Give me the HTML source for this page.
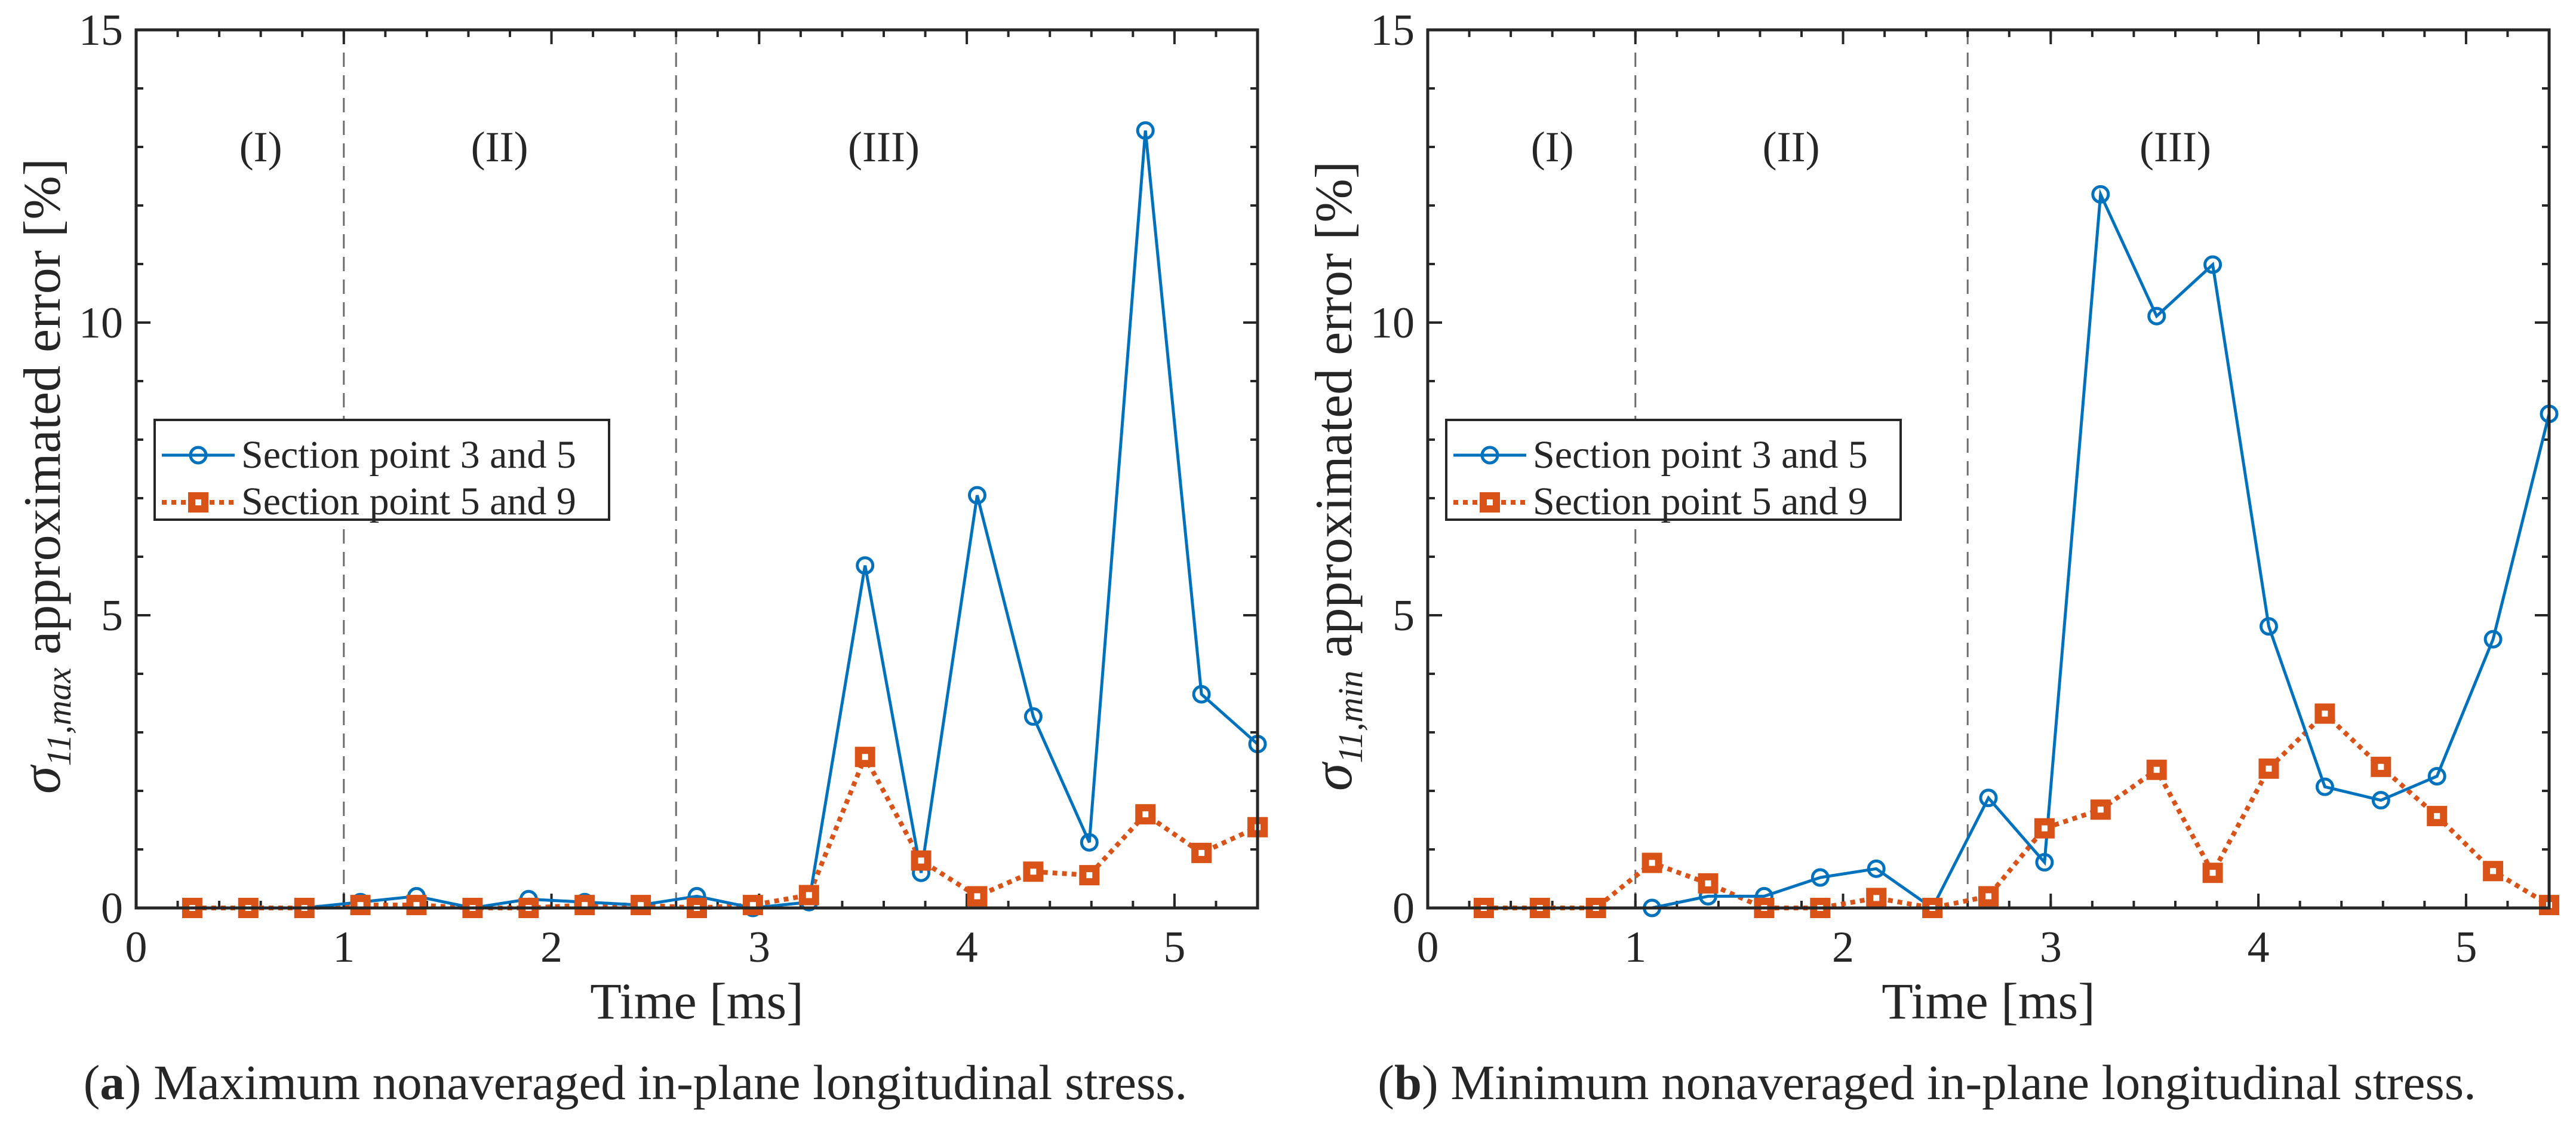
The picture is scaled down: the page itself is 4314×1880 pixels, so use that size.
<!DOCTYPE html>
<html><head><meta charset="utf-8">
<style>
html,body{margin:0;padding:0;background:#fff;}
svg{display:block;}
text{font-family:"Liberation Serif",serif;fill:#262626;}
</style></head>
<body>
<svg id="fig" width="4314" height="1880" viewBox="0 0 4314 1880" xmlns="http://www.w3.org/2000/svg"></svg>
<script>
const timeValues = [0.27,0.54,0.81,1.08,1.35,1.62,1.89,2.16,2.43,2.70,2.97,3.24,3.51,3.78,4.05,4.32,4.59,4.86,5.13,5.40];
const maxSp35 = [0,0,0,0.1,0.2,0,0.15,0.1,0.05,0.2,0,0.1,5.85,0.6,7.05,3.27,1.12,13.28,3.65,2.8];
const maxSp59 = [0,0,0,0.05,0.05,0,0,0.05,0.05,0,0.05,0.22,2.58,0.81,0.2,0.62,0.56,1.6,0.94,1.38];
const minSp35 = [0,0,0,0,0.2,0.2,0.52,0.67,0,1.88,0.78,12.19,10.11,10.99,4.81,2.07,1.84,2.25,4.59,8.44];
const minSp59 = [0,0,0,0.77,0.42,0,0,0.17,0,0.2,1.36,1.68,2.36,0.6,2.38,3.32,2.41,1.57,0.63,0.05];
const xTicks = [0,1,2,3,4,5];
const yTicks = [0,5,10,15];
const regionBounds = [1,2.6];
const regionLabels = ["(I)","(II)","(III)"];
const regionLabelX = [0.6,1.75,3.6];

const NS="http://www.w3.org/2000/svg";
const svg=document.getElementById('fig');
function mk(tag,attrs,parent){const e=document.createElementNS(NS,tag);for(const k in attrs)e.setAttribute(k,attrs[k]);(parent||svg).appendChild(e);return e;}

function panel(left, ser1, ser2, ylabelSub, caption, capBold, id){
  const L=left, R=left+1878, T=50, B=1520, xmax=5.4, ymax=15;
  const xs=v=>L+(v/xmax)*(R-L);
  const ys=v=>B-(v/ymax)*(B-T);
  const g=mk('g',{});
  
  
  regionBounds.forEach(b=>{
    const l=mk('line',{x1:xs(b),x2:xs(b),y1:T,y2:B,stroke:'#6e6e6e','stroke-width':3,'stroke-dasharray':'24 14'},g);
    
    
  });
  regionLabels.forEach((t,i)=>{
    const tx=mk('text',{x:xs(regionLabelX[i]),y:ys(13)+24,'font-size':72,'text-anchor':'middle'},g);
    tx.textContent=t;
    
    
  });
  for(let v=0.2; v<xmax-0.01; v+=0.2){
    mk('line',{x1:xs(v),x2:xs(v),y1:B,y2:B-12,stroke:'#262626','stroke-width':4},g);
    mk('line',{x1:xs(v),x2:xs(v),y1:T,y2:T+12,stroke:'#262626','stroke-width':4},g);
  }
  for(let v=1; v<ymax; v++){
    mk('line',{x1:L,x2:L+12,y1:ys(v),y2:ys(v),stroke:'#262626','stroke-width':4},g);
    mk('line',{x1:R,x2:R-12,y1:ys(v),y2:ys(v),stroke:'#262626','stroke-width':4},g);
  }
  xTicks.forEach(v=>{
    mk('line',{x1:xs(v),x2:xs(v),y1:B,y2:B-24,stroke:'#262626','stroke-width':4},g);
    mk('line',{x1:xs(v),x2:xs(v),y1:T,y2:T+24,stroke:'#262626','stroke-width':4},g);
    const t=mk('text',{x:xs(v),y:B+90,'font-size':74,'text-anchor':'middle'},g);
    t.textContent=v;
    
    
  });
  yTicks.forEach(v=>{
    mk('line',{x1:L,x2:L+24,y1:ys(v),y2:ys(v),stroke:'#262626','stroke-width':4},g);
    mk('line',{x1:R,x2:R-24,y1:ys(v),y2:ys(v),stroke:'#262626','stroke-width':4},g);
    const t=mk('text',{x:L-22,y:ys(v)+25,'font-size':74,'text-anchor':'end'},g);
    t.textContent=v;
    
    
  });
  const p2=mk('polyline',{points:timeValues.map((t,i)=>xs(t)+','+ys(ser2[i])).join(' '),fill:'none',stroke:'#D95319','stroke-width':8,'stroke-dasharray':'8 8'},g);
  
  
  const p1=mk('polyline',{points:timeValues.map((t,i)=>xs(t)+','+ys(ser1[i])).join(' '),fill:'none',stroke:'#0072BD','stroke-width':5},g);
  
  
  timeValues.forEach((t,i)=>{
    const c=mk('circle',{cx:xs(t),cy:ys(ser1[i]),r:13,fill:'none',stroke:'#0072BD','stroke-width':5},g);
    
    
  });
  timeValues.forEach((t,i)=>{
    const s=mk('rect',{x:xs(t)-11,y:ys(ser2[i])-11,width:22,height:22,fill:'#fff',stroke:'#D95319','stroke-width':12},g);
    
    
  });
  const box=mk('rect',{x:L,y:T,width:R-L,height:B-T,fill:'none',stroke:'#262626','stroke-width':5},g);
  
  
  const lg=mk('g',{},g);
  
  
  const lx=L+31, ly=703;
  mk('rect',{x:lx,y:ly,width:761,height:167,fill:'#fff',stroke:'#262626','stroke-width':4},lg);
  mk('line',{x1:lx+12,x2:lx+134,y1:ly+59,y2:ly+59,stroke:'#0072BD','stroke-width':5},lg);
  mk('circle',{cx:lx+73,cy:ly+59,r:13,fill:'none',stroke:'#0072BD','stroke-width':5},lg);
  mk('line',{x1:lx+12,x2:lx+134,y1:ly+138,y2:ly+138,stroke:'#D95319','stroke-width':8,'stroke-dasharray':'8 8'},lg);
  mk('rect',{x:lx+62,y:ly+127,width:22,height:22,fill:'#fff',stroke:'#D95319','stroke-width':12},lg);
  const e1=mk('text',{x:lx+145,y:ly+80,'font-size':66},lg);
  e1.textContent='Section point 3 and 5';
  
  
  const e2=mk('text',{x:lx+145,y:ly+158,'font-size':66},lg);
  e2.textContent='Section point 5 and 9';
  
  
  const xl=mk('text',{x:(L+R)/2,y:1705,'font-size':86,'text-anchor':'middle'},g);
  xl.textContent='Time [ms]';
  
  
  const yl=mk('text',{x:0,y:0,'font-size':88,'text-anchor':'middle',transform:`translate(${L-128},797) rotate(-90)`},g);
  yl.innerHTML='<tspan font-style="italic" font-size="94">σ</tspan><tspan font-size="58" font-style="italic" dy="18">11,'+ylabelSub+'</tspan><tspan dy="-18"> approximated error [%]</tspan>';
  
  
  const cp=mk('text',{x:L+836,y:1840,'font-size':83,'text-anchor':'middle',fill:'#000'},g);
  cp.innerHTML='(<tspan font-weight="bold">'+capBold+'</tspan>) '+caption;
  
  
}
panel(228, maxSp35, maxSp59, 'max', 'Maximum nonaveraged in-plane longitudinal stress.', 'a', 'max');
panel(2391, minSp35, minSp59, 'min', 'Minimum nonaveraged in-plane longitudinal stress.', 'b', 'min');
</script>
</body></html>
